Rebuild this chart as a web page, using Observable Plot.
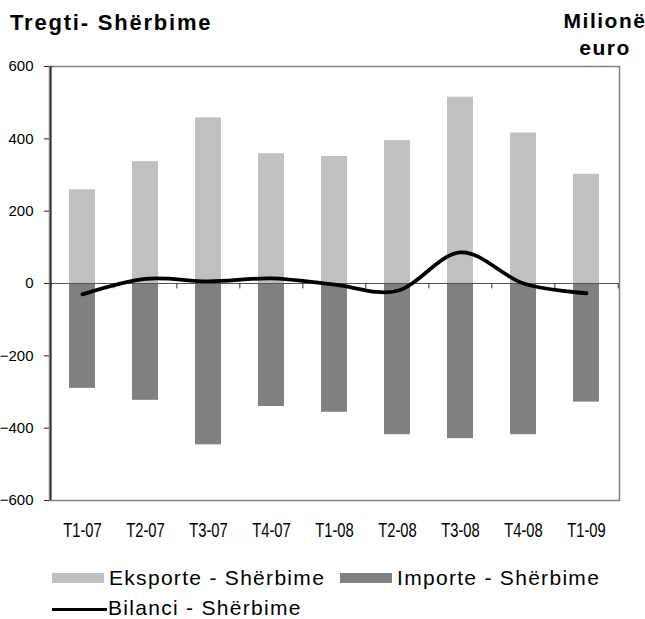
<!DOCTYPE html>
<html>
<head>
<meta charset="utf-8">
<script src="https://cdn.jsdelivr.net/npm/d3@7"></script>
<script src="https://cdn.jsdelivr.net/npm/@observablehq/plot@0.6"></script>
<style>
  body { margin: 0; background: #fff; font-family: "Liberation Sans", Arial, sans-serif; color: #000; }
  #wrap { position: relative; width: 645px; height: 619px; overflow: hidden; }
  #chart { position: absolute; left: 0; top: 0; }
  .ttl { position: absolute; font-weight: bold; z-index: 2; white-space: nowrap; }
  #legend { position: absolute; left: 0; top: 0; width: 645px; z-index: 2; font-size: 21px; line-height: 21px; letter-spacing: 1.3px; }
  .item { position: absolute; display: flex; align-items: center; white-space: nowrap; }
  .sw { display: inline-block; width: 52px; height: 10px; margin-right: 5px; }
  .ln { display: inline-block; width: 55px; height: 3px; background: #000; margin-right: 1px; position: relative; top: 2px; }
</style>
</head>
<body>
<div id="wrap">
  <div class="ttl" style="left:10px; top:12px; font-size:22px; line-height:22px; letter-spacing:1.8px;">Tregti- Shërbime</div>
  <div class="ttl" style="left:558px; width:94px; top:7px; font-size:21px; line-height:27px; letter-spacing:1.5px; text-align:center;">Milionë<br>euro</div>
  <div id="chart"></div>
  <div id="legend"></div>
</div>
<script>
const categories = ["T1-07", "T2-07", "T3-07", "T4-07", "T1-08", "T2-08", "T3-08", "T4-08", "T1-09"];
const eksporte = [259, 337, 458, 359, 351, 395, 515, 416, 302];
const importe = [-290, -323, -446, -340, -356, -418, -429, -418, -328];
const bilanci = [-30, 13, 6, 14, -3, -20, 86, 0, -27];
const yTicks = [-600, -400, -200, 0, 200, 400, 600];
const seriesNames = ["Eksporte - Shërbime", "Importe - Shërbime", "Bilanci - Shërbime"];
const colors = ["#c0c0c0", "#808080", "#000000"];

const expData = categories.map((c, i) => ({cat: c, v: eksporte[i]}));
const impData = categories.map((c, i) => ({cat: c, v: importe[i]}));
const balData = categories.map((c, i) => ({cat: c, v: bilanci[i]}));

const W = 645, H = 545, mL = 49, mR = 26, mT = 66, mB = 45;
const step = (W - mL - mR) / categories.length;

const chart = Plot.plot({
  width: W, height: H,
  marginLeft: mL, marginRight: mR, marginTop: mT, marginBottom: mB,
  style: {background: "transparent", fontFamily: "'Liberation Sans', Arial, sans-serif", fontSize: "14px", color: "#000"},
  x: {domain: categories, paddingInner: 0.58, paddingOuter: 0.29, align: 0.5},
  y: {domain: [-600, 600]},
  marks: [
    Plot.frame({stroke: "#808080", strokeWidth: 1.5}),
    Plot.barY(expData, {x: "cat", y: "v", fill: colors[0]}),
    Plot.barY(impData, {x: "cat", y: "v", fill: colors[1]}),
    Plot.ruleY([0], {stroke: "#555", strokeWidth: 1.2}),
    Plot.ruleX(categories, {x: d => d, y1: 0, y2: -15, dx: -step / 2, stroke: "#333"}),
    Plot.ruleX([categories[categories.length - 1]], {x: d => d, y1: 0, y2: -15, dx: step / 2, stroke: "#333"}),
    Plot.ruleX([categories[0]], {x: d => d, y1: -600, y2: 600, dx: -step / 2, stroke: "#222", strokeWidth: 1.5}),
    Plot.axisY({ticks: yTicks, tickSize: 5, tickPadding: 11, label: null, stroke: "#222", fontSize: 15}),
    Plot.axisX({anchor: "bottom", tickSize: 0, tickPadding: 22, label: null, fontSize: 20}),
    Plot.lineY(balData, {x: "cat", y: "v", curve: "cardinal", tension: 0, stroke: colors[2], strokeWidth: 3.8, strokeLinecap: "round"})
  ]
});
document.getElementById("chart").appendChild(chart);

// condense the x tick labels (narrow face as in the original)
chart.querySelectorAll("text").forEach(el => {
  if (!categories.includes(el.textContent.trim())) return;
  const tr = el.getAttribute("transform") || "";
  const x = +(el.getAttribute("x") || 0);
  el.setAttribute("x", 0);
  el.setAttribute("transform", `${tr} translate(${x},0) scale(0.74,1)`);
});

const legend = document.getElementById("legend");
const pos = [[52, 567], [340, 567], [52, 597]];
seriesNames.forEach((name, i) => {
  const it = document.createElement("div");
  it.className = "item";
  it.style.left = pos[i][0] + "px";
  it.style.top = pos[i][1] + "px";
  const s = document.createElement("span");
  s.className = i < 2 ? "sw" : "ln";
  s.style.background = colors[i];
  const t = document.createElement("span");
  t.textContent = name;
  it.appendChild(s); it.appendChild(t);
  legend.appendChild(it);
});
</script>
</body>
</html>
